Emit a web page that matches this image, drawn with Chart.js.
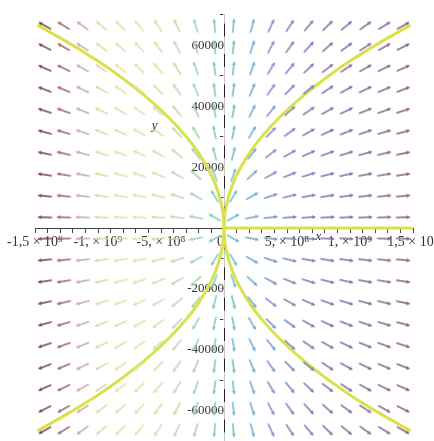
<!DOCTYPE html>
<html>
<head>
<meta charset="utf-8">
<script src="https://cdn.jsdelivr.net/npm/chart.js@4/dist/chart.umd.min.js"></script>
<style>
  html, body { margin: 0; padding: 0; background: #ffffff; overflow: hidden; }
  #wrap { position: relative; width: 434px; height: 441px; overflow: hidden; }
  #c { position: absolute; left: -30px; top: 0; }
</style>
</head>
<body>
<div id="wrap"><canvas id="c" width="494" height="456"></canvas></div>
<script>
// Direction field of dy/dx = y / (2x) with the solution curves y^2 = 3x.

// Sample grid of the field (20 columns x 20 rows, cell centres)
const fieldX = [-1.425e9, -1.275e9, -1.125e9, -0.975e9, -0.825e9, -0.675e9, -0.525e9, -0.375e9, -0.225e9, -0.075e9,
                 0.075e9,  0.225e9,  0.375e9,  0.525e9,  0.675e9,  0.825e9,  0.975e9,  1.125e9,  1.275e9,  1.425e9];
const fieldY = [-66500, -59500, -52500, -45500, -38500, -31500, -24500, -17500, -10500, -3500,
                  3500,  10500,  17500,  24500,  31500,  38500,  45500,  52500,  59500,  66500];

// Solution curve (upper right branch); the other branches mirror it
const curveX = [0, 0.001e9, 0.005e9, 0.02e9, 0.05e9, 0.1e9, 0.2e9, 0.3e9, 0.45e9, 0.6e9, 0.8e9, 1.0e9, 1.25e9, 1.48e9];
const curveY = [0, 1700, 3900, 7700, 12200, 17300, 24500, 30000, 36700, 42400, 49000, 54800, 61200, 66600];

// Axis ticks
const xMajorTicks = [-1.5e9, -1e9, -5e8, 0, 5e8, 1e9, 1.5e9];
const xTickLabels = ['-1,5 \u00d7 10\u2079', '-1, \u00d7 10\u2079', '-5, \u00d7 10\u2078', '0\u2002', '5, \u00d7 10\u2078', '1, \u00d7 10\u2079', '1,5 \u00d7 10\u2079'];
const yMajorTicks = [-60000, -40000, -20000, 20000, 40000, 60000];
const yTickLabels = ['-60000', '-40000', '-20000', '20000', '40000', '60000'];

// Arrow colour for each column of the field
const columnColors = ['#74404f', '#a0606e', '#cea898', '#e0d6a4', '#e2e0a4', '#dde4a4', '#cfe2a4', '#bcdca6',
                      '#9ed2a6', '#80c8b8', '#6cbccc', '#70a8d0', '#7494c8', '#7484be', '#7878b4', '#7c70ac',
                      '#806aa4', '#86669c', '#8c6292', '#86587e'];

// Field direction (dx, dy) at a point
function fieldDir(x, y) { return [2 * x, y]; }

function makeArrow(color) {
  const c = document.createElement('canvas');
  c.width = 20; c.height = 20;
  const g = c.getContext('2d');
  g.strokeStyle = color; g.fillStyle = color;
  g.lineWidth = 1.3; g.lineCap = 'round';
  g.beginPath(); g.moveTo(3, 10); g.lineTo(15, 10); g.stroke();
  g.beginPath(); g.moveTo(17, 10); g.lineTo(12.8, 7.9); g.lineTo(13.6, 10); g.lineTo(12.8, 12.1); g.closePath(); g.fill();
  return c;
}
const arrowImgs = columnColors.map(makeArrow);

const fieldPts = [];
const fieldCol = [];
fieldX.forEach((x, i) => fieldY.forEach(y => { fieldPts.push({x, y}); fieldCol.push(i); }));

const branch = (sx, sy) => curveX.map((x, i) => ({x: sx * x, y: sy * curveY[i]}));

const curveStyle = {
  type: 'line', showLine: true, borderColor: '#d9e24c', borderWidth: 3, pointRadius: 0,
  cubicInterpolationMode: 'monotone', fill: false, clip: false
};

const yFont = { family: '"Liberation Serif", "DejaVu Serif", serif', size: 13 };
const xFont = { family: '"Liberation Serif", "DejaVu Serif", serif', size: 14 };

// Axis names
const axisNames = {
  id: 'axisNames',
  afterDraw(chart) {
    const {ctx, scales: {x, y}} = chart;
    ctx.save();
    ctx.fillStyle = '#333';
    ctx.font = 'italic 13px "Liberation Serif"';
    ctx.textAlign = 'center'; ctx.textBaseline = 'middle';
    ctx.fillText('y', x.getPixelForValue(-5.5e8), y.getPixelForValue(33500));
    ctx.fillText('x', x.getPixelForValue(7.5e8), y.getPixelForValue(-2700));
    ctx.restore();
  }
};

new Chart(document.getElementById('c'), {
  type: 'scatter',
  data: {
    datasets: [
      {
        data: fieldPts,
        clip: false,
        pointStyle: ctx => arrowImgs[fieldCol[ctx.dataIndex]],
        pointRotation: ctx => {
          const p = ctx.raw; if (!p) return 0;
          const {x, y} = ctx.chart.scales;
          const [dx, dy] = fieldDir(p.x, p.y);
          const px = dx * (x.getPixelForValue(1e8) - x.getPixelForValue(0)) / 1e8;
          const py = dy * (y.getPixelForValue(10000) - y.getPixelForValue(0)) / 10000;
          return Math.atan2(py, px) * 180 / Math.PI;
        }
      },
      Object.assign({data: branch(1, 1)}, curveStyle),
      Object.assign({data: branch(1, -1)}, curveStyle),
      Object.assign({data: branch(-1, 1)}, curveStyle),
      Object.assign({data: branch(-1, -1)}, curveStyle),
      Object.assign({data: [{x: 0, y: 0}, {x: 1.5e9, y: 0}]}, curveStyle)
    ]
  },
  options: {
    responsive: false,
    animation: false,
    events: [],
    layout: { padding: { left: 65, right: 51, top: 10, bottom: 12 } },
    plugins: { legend: { display: false }, tooltip: { enabled: false } },
    scales: {
      x: {
        type: 'linear', min: -1.5e9, max: 1.5e9,
        position: { y: 0 }, z: 1,
        border: { display: true, color: '#444', width: 1 },
        grid: { drawOnChartArea: false, drawTicks: true, tickLength: 4, tickColor: '#444' },
        afterBuildTicks: s => {
          const t = [];
          for (let k = -15; k <= 15; k++) t.push({value: k * 1e8});
          s.ticks = t;
        },
        ticks: {
          autoSkip: false, maxRotation: 0, padding: 2, color: '#333',
          font: xFont,
          callback: v => { const i = xMajorTicks.findIndex(m => Math.abs(m - v) < 1); return i >= 0 ? xTickLabels[i] : ''; }
        }
      },
      y: {
        type: 'linear', min: -70000, max: 70000,
        position: { x: 0 }, z: 1,
        border: { display: true, color: '#222', width: 1 },
        grid: { drawOnChartArea: false, drawTicks: true, tickLength: 4, tickColor: '#333' },
        afterBuildTicks: s => {
          const t = [];
          for (let k = -7; k <= 7; k++) t.push({value: k * 10000});
          s.ticks = t;
        },
        ticks: {
          autoSkip: false, padding: 7, color: '#333',
          showLabelBackdrop: true, backdropColor: 'rgba(255,255,255,0.75)', backdropPadding: 1,
          font: yFont,
          callback: v => { const i = yMajorTicks.findIndex(m => Math.abs(m - v) < 1); return i >= 0 ? yTickLabels[i] : ''; }
        }
      }
    }
  },
  plugins: [axisNames]
});
</script>
</body>
</html>
